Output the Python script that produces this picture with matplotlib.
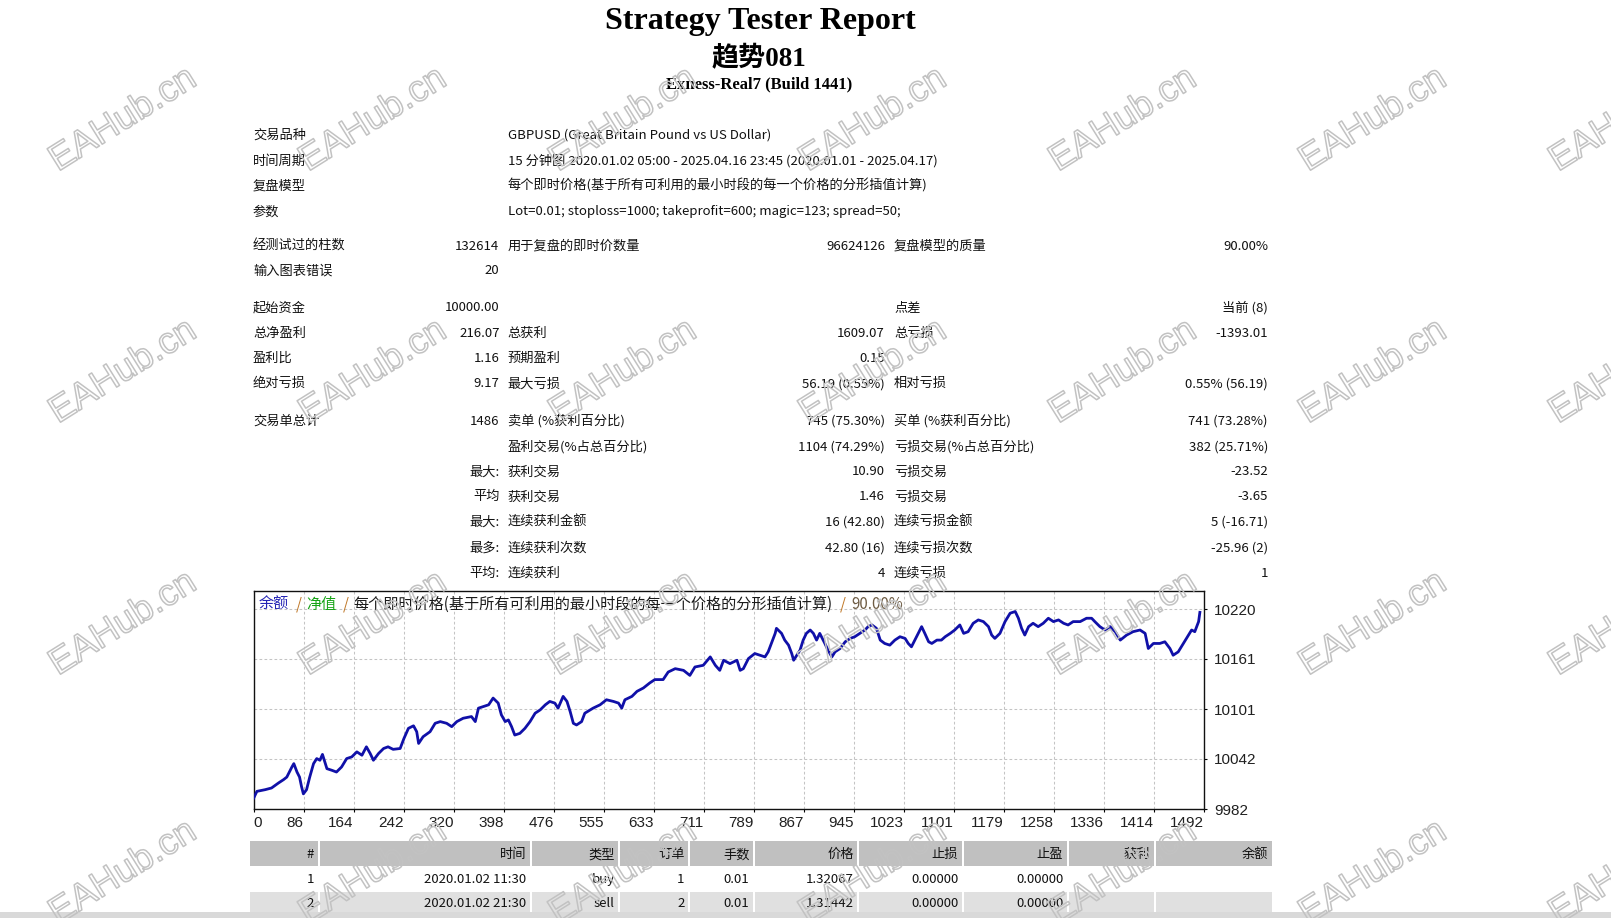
import numpy as np
import matplotlib
matplotlib.use("Agg")
import matplotlib.pyplot as plt
import matplotlib.patheffects as pe
from matplotlib.patches import Rectangle

plt.rcParams['font.family'] = ['Noto Sans CJK SC', 'DejaVu Sans']

# ---- report header ----
title = 'Strategy Tester Report'
ea_name = '趋势081'
server = 'Exness-Real7 (Build 1441)'

info_labels = ['交易品种', '时间周期', '复盘模型', '参数']
info_values = ['GBPUSD (Great Britain Pound vs US Dollar)',
               '15 分钟图 2020.01.02 05:00 - 2025.04.16 23:45 (2020.01.01 - 2025.04.17)',
               '每个即时价格(基于所有可利用的最小时段的每一个价格的分形插值计算)',
               'Lot=0.01; stoploss=1000; takeprofit=600; magic=123; spread=50;']

# label1, value1, label2, value2, label3, value3
stat_rows = [
    ('经测试过的柱数', '132614', '用于复盘的即时价数量', '96624126', '复盘模型的质量', '90.00%'),
    ('输入图表错误', '20', '', '', '', ''),
    ('起始资金', '10000.00', '', '', '点差', '当前 (8)'),
    ('总净盈利', '216.07', '总获利', '1609.07', '总亏损', '-1393.01'),
    ('盈利比', '1.16', '预期盈利', '0.15', '', ''),
    ('绝对亏损', '9.17', '最大亏损', '56.19 (0.55%)', '相对亏损', '0.55% (56.19)'),
    ('交易单总计', '1486', '卖单 (%获利百分比)', '745 (75.30%)', '买单 (%获利百分比)', '741 (73.28%)'),
    ('', '', '盈利交易(%占总百分比)', '1104 (74.29%)', '亏损交易(%占总百分比)', '382 (25.71%)'),
    ('', '最大:', '获利交易', '10.90', '亏损交易', '-23.52'),
    ('', '平均', '获利交易', '1.46', '亏损交易', '-3.65'),
    ('', '最大:', '连续获利金额', '16 (42.80)', '连续亏损金额', '5 (-16.71)'),
    ('', '最多:', '连续获利次数', '42.80 (16)', '连续亏损次数', '-25.96 (2)'),
    ('', '平均:', '连续获利', '4', '连续亏损', '1'),
]

# ---- balance curve (trade number, balance) ----
trade_no = [0, 5, 18, 28, 39, 47, 52, 56, 60, 63, 68, 72, 75, 78, 83, 88, 94, 99, 104, 108,
            115, 123, 130, 138, 146, 154, 162, 170, 177, 183, 188, 196, 204, 211, 219, 230, 236, 243, 251, 256,
            259, 266, 277, 285, 293, 303, 311, 319, 329, 342, 348, 353, 361, 369, 376, 384, 389, 395, 400, 405,
            410, 418, 426, 434, 442, 450, 458, 465, 473, 478, 486, 492, 497, 502, 507, 515, 520, 533, 544, 554,
            565, 573, 578, 583, 594, 602, 612, 622, 630, 643, 651, 662, 675, 685, 693, 706, 717, 725, 732, 738,
            748, 759,
            764, 769, 777, 787, 795, 803, 808, 813, 819, 821, 829, 834, 840, 845, 848, 853, 858, 863, 868, 874,
            879, 884, 889, 897, 902, 908, 913, 921, 929, 937, 944, 952, 960, 965, 971, 978, 984, 991, 999, 1007,
            1015, 1023, 1028, 1033, 1041, 1049, 1054, 1060, 1065, 1073, 1080, 1086, 1094, 1101, 1109, 1115, 1122, 1130, 1138, 1146,
            1154, 1159, 1164, 1172, 1180, 1188, 1196, 1201, 1206, 1211, 1217, 1224, 1232, 1240, 1248, 1256, 1264, 1272, 1279, 1287,
            1298, 1308, 1316, 1321, 1329, 1337, 1345, 1353, 1361, 1371, 1381, 1392, 1400, 1405, 1413, 1423, 1431, 1439, 1444, 1452,
            1460, 1468, 1473, 1478, 1484, 1486]
balance = [9995, 10003, 10005, 10007, 10013, 10017, 10020, 10026, 10032, 10036, 10026, 10020, 10009, 10000, 10005, 10020, 10036, 10042, 10040, 10047,
           10030, 10028, 10026, 10032, 10042, 10044, 10050, 10046, 10056, 10048, 10040, 10048, 10054, 10056, 10053, 10054, 10066, 10078, 10081, 10074,
           10060, 10068, 10074, 10084, 10086, 10084, 10080, 10086, 10090, 10092, 10086, 10102, 10104, 10106, 10114, 10108, 10094, 10086, 10088, 10080,
           10070, 10072, 10078, 10086, 10096, 10100, 10106, 10110, 10108, 10102, 10116, 10110, 10098, 10084, 10082, 10086, 10096, 10102, 10106, 10112,
           10110, 10108, 10102, 10112, 10116, 10122, 10126, 10132, 10136, 10136, 10145, 10149, 10147, 10141, 10151, 10153, 10163, 10153, 10147, 10159,
           10155, 10159,
           10147, 10149, 10161, 10167, 10165, 10163, 10169, 10179, 10191, 10197, 10191, 10183, 10177, 10167, 10159, 10165, 10171, 10183, 10191, 10195,
           10191, 10183, 10191, 10179, 10171, 10163, 10169, 10173, 10181, 10185, 10187, 10191, 10195, 10199, 10201, 10197, 10183, 10179, 10177, 10183,
           10187, 10185, 10179, 10175, 10187, 10199, 10191, 10181, 10179, 10183, 10183, 10187, 10191, 10195, 10201, 10191, 10193, 10203, 10207, 10205,
           10199, 10189, 10185, 10191, 10205, 10215, 10217, 10209, 10197, 10189, 10199, 10203, 10199, 10203, 10209, 10205, 10207, 10203, 10201, 10205,
           10205, 10209, 10209, 10205, 10199, 10195, 10199, 10193, 10183, 10189, 10193, 10195, 10191, 10173, 10179, 10179, 10181, 10173, 10165, 10169,
           10179, 10189, 10195, 10193, 10205, 10216]

x_tick_labels = ['0', '86', '164', '242', '320', '398', '476', '555', '633', '711', '789',
                 '867', '945', '1023', '1101', '1179', '1258', '1336', '1414', '1492']
y_ticks = [9982, 10042, 10101, 10161, 10220]
x_max = 1492
quality = '90.00%'
model_name = '每个即时价格(基于所有可利用的最小时段的每一个价格的分形插值计算)'

trade_cols = ['#', '时间', '类型', '订单', '手数', '价格', '止损', '止盈', '获利', '余额']
trade_rows = [
    ['1', '2020.01.02 11:30', 'buy', '1', '0.01', '1.32067', '0.00000', '0.00000', '', ''],
    ['2', '2020.01.02 21:30', 'sell', '2', '0.01', '1.31442', '0.00000', '0.00000', '', ''],
]

# ---- figure: a pixel-space background axes for the report page ----
W, H = 1611, 918
fig = plt.figure(figsize=(W / 100, H / 100), dpi=100)
bg = fig.add_axes([0, 0, 1, 1])
bg.set_xlim(0, W)
bg.set_ylim(H, 0)
bg.axis('off')

FS = 9.5


def cell(x, y, s, ha='left'):
    if s:
        bg.text(x, y + 4.9, s, ha=ha, va='baseline', fontsize=FS, color='#111111')


serif = ['Liberation Serif', 'Noto Sans CJK SC']
bg.text(760, 29.5, title, ha='center', va='baseline', fontsize=23, fontweight='bold', family=serif)
bg.text(759, 66, ea_name, ha='center', va='baseline', fontsize=19.5, fontweight='bold', family=serif)
bg.text(759, 88.3, server, ha='center', va='baseline', fontsize=12, fontweight='bold', family=serif)

for y, lab, val in zip([134, 159.5, 185, 210.5], info_labels, info_values):
    cell(253, y, lab)
    cell(507.5, y, val)

stat_y = [245, 269.5, 306.5, 332, 357, 382.5, 420, 445.5, 470.5, 495.5, 521, 546.5, 572]
for y, (l1, v1, l2, v2, l3, v3) in zip(stat_y, stat_rows):
    cell(253, y, l1)
    cell(499.5, y, v1, 'right')
    cell(507.5, y, l2)
    cell(885, y, v2, 'right')
    cell(894, y, l3)
    cell(1268, y, v3, 'right')

# ---- balance graph ----
left, right, top, bottom = 253.7, 1203.7, 591, 809
ax = fig.add_axes([left / W, (H - bottom) / H, (right - left) / W, (bottom - top) / H])
ax.plot(trade_no, balance, color='#1010a8', lw=2.0, zorder=3)
ax.set_xlim(0, x_max)
ax.set_ylim(y_ticks[0], y_ticks[0] + (y_ticks[-1] - y_ticks[0]) / 4 * (bottom - top) / 50)
ax.set_xticks(np.linspace(0, x_max, len(x_tick_labels)), labels=x_tick_labels,
              fontsize=11, family=['Liberation Sans'], color='#202020')
ax.set_yticks(y_ticks, labels=[str(v) for v in y_ticks],
              fontsize=11, family=['Liberation Sans'], color='#202020')
for i, lab in enumerate(ax.get_xticklabels()):
    lab.set_ha('left' if i == 0 else 'right')
ax.yaxis.tick_right()
ax.tick_params(axis='x', direction='out', length=2.5, width=0.8, pad=2.5)
ax.tick_params(axis='y', direction='out', length=2.5, width=0.8, pad=5)
ax.grid(True, color='#c4c4c4', lw=0.75, linestyle=(0, (2.6, 2.2)))
for sp in ax.spines.values():
    sp.set_color('#111111')
    sp.set_linewidth(1.0)

# coloured legend line inside the graph
renderer = fig.canvas.get_renderer()
parts = [('余额', '#2323b4', 7), ('/', '#c07828', 4), ('净值', '#16a316', 6), ('/', '#c07828', 5),
         (model_name, '#1a1a1a', 7), ('/', '#c07828', 6), (quality, '#6e5c44', 0)]
x = 259
for s, c, gap in parts:
    t = ax.text(x, 609, s, transform=bg.transData, ha='left', va='baseline',
                fontsize=10.9, color=c, zorder=4)
    x += t.get_window_extent(renderer=renderer).width + gap

# ---- trades table ----
col_right = [317.7, 529.6, 618, 688, 753, 857.3, 961.7, 1066.7, 1154, 1271.7]
col_left = [249.5] + [r + 2 for r in col_right[:-1]]
row_fill = ['#c0c0c0', 'white', '#e0e0e0']
row_top = [841, 866, 891.7]
row_bot = [865.7, 891, 912.3]
for r, row in enumerate([trade_cols] + trade_rows):
    for c, s in enumerate(row):
        bg.add_patch(Rectangle((col_left[c], row_top[r]), col_right[c] - col_left[c],
                               row_bot[r] - row_top[r], color=row_fill[r], lw=0))
        cell(col_right[c] - 3.5, (row_top[r] + row_bot[r]) / 2, s, 'right')

bg.add_patch(Rectangle((0, 912), W, 6, color='#d9d9d9', lw=0, zorder=5))

# ---- site watermark ----
for wx in range(123, 1700, 250):
    for wy in (120, 372, 624, 873):
        fig.text(wx / W, 1 - wy / H, 'EAHub.cn', rotation=32, ha='center', va='center',
                 fontsize=26.5, family=['Liberation Sans'], color=(1, 1, 1, 0), zorder=10,
                 path_effects=[pe.Stroke(linewidth=1.1, foreground='#c2c2c2')])

fig.savefig('out.png', dpi=100)
